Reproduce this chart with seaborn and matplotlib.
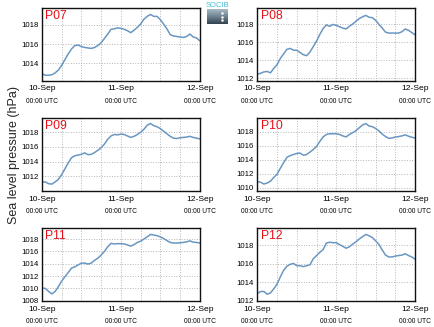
import numpy as np
import pandas as pd
import matplotlib
matplotlib.use("Agg")
import matplotlib.pyplot as plt
import matplotlib.dates as mdates
from matplotlib.ticker import MultipleLocator
import seaborn as sns

# Hourly sea level pressure (hPa), 10-Sep 00:00 to 12-Sep 00:00 UTC
times = pd.date_range("2013-09-10 00:00", "2013-09-12 00:00", freq="h")

p07 = [1012.9, 1012.75, 1012.75, 1012.8, 1013.0, 1013.3, 1013.8, 1014.4, 1015.0, 1015.5,
       1015.85, 1015.9, 1015.75, 1015.65, 1015.6, 1015.55, 1015.65, 1015.85, 1016.15, 1016.6,
       1017.05, 1017.55, 1017.6, 1017.7, 1017.65, 1017.55, 1017.4, 1017.2, 1017.45, 1017.75,
       1018.1, 1018.6, 1018.9, 1019.1, 1018.9, 1018.9, 1018.55, 1018.1, 1017.6, 1017.0,
       1016.85, 1016.8, 1016.75, 1016.7, 1016.8, 1017.05, 1016.75, 1016.65, 1016.35]
p08 = [1012.45, 1012.55, 1012.7, 1012.75, 1012.6, 1013.1, 1013.5, 1014.2, 1014.7, 1015.2,
       1015.3, 1015.1, 1015.1, 1014.85, 1014.6, 1014.5, 1014.9, 1015.5, 1016.1, 1016.85,
       1017.5, 1017.9, 1017.75, 1017.95, 1017.85, 1017.7, 1017.55, 1017.45, 1017.75, 1018.0,
       1018.3, 1018.6, 1018.8, 1018.95, 1018.75, 1018.7, 1018.4, 1017.95, 1017.55, 1017.1,
       1017.0, 1017.0, 1017.0, 1017.0, 1017.15, 1017.45, 1017.3, 1017.05, 1016.8]
p09 = [1011.2, 1011.25, 1011.0, 1010.95, 1011.25, 1011.6, 1012.25, 1013.05, 1013.85, 1014.55,
       1014.8, 1014.9, 1015.0, 1015.2, 1014.95, 1015.0, 1015.25, 1015.55, 1015.9, 1016.4,
       1017.05, 1017.5, 1017.7, 1017.65, 1017.75, 1017.7, 1017.5, 1017.3, 1017.45, 1017.7,
       1018.0, 1018.4, 1018.95, 1019.2, 1018.9, 1018.75, 1018.5, 1018.15, 1017.8, 1017.45,
       1017.2, 1017.15, 1017.25, 1017.3, 1017.35, 1017.45, 1017.3, 1017.2, 1017.1]
p10 = [1010.9, 1010.8, 1010.55, 1010.7, 1010.95, 1011.5, 1011.95, 1012.8, 1013.6, 1014.35,
       1014.6, 1014.75, 1014.9, 1014.95, 1014.65, 1014.75, 1015.1, 1015.45, 1015.9, 1016.6,
       1017.25, 1017.6, 1017.7, 1017.7, 1017.7, 1017.6, 1017.4, 1017.25, 1017.6, 1017.85,
       1018.15, 1018.55, 1018.95, 1019.15, 1018.8, 1018.7, 1018.45, 1018.1, 1017.65, 1017.3,
       1017.05, 1017.1, 1017.25, 1017.3, 1017.4, 1017.55, 1017.35, 1017.2, 1017.1]
p11 = [1010.05, 1010.0, 1009.5, 1009.1, 1009.5, 1010.3, 1011.2, 1011.9, 1012.6, 1013.3,
       1013.5, 1013.8, 1014.1, 1014.1, 1013.95, 1014.1, 1014.55, 1014.9, 1015.4, 1016.0,
       1016.75, 1017.3, 1017.2, 1017.25, 1017.25, 1017.2, 1017.05, 1016.85, 1017.1, 1017.45,
       1017.65, 1018.0, 1018.35, 1018.75, 1018.65, 1018.55, 1018.35, 1018.1, 1017.75, 1017.45,
       1017.35, 1017.35, 1017.4, 1017.45, 1017.55, 1017.7, 1017.5, 1017.45, 1017.35]
p12 = [1012.8, 1013.0, 1013.0, 1012.7, 1012.85, 1013.3, 1013.8, 1014.6, 1015.3, 1015.75,
       1015.95, 1016.05, 1015.8, 1015.8, 1015.7, 1015.8, 1015.9, 1016.55, 1016.9, 1017.25,
       1017.55, 1018.25, 1018.35, 1018.3, 1018.3, 1018.1, 1017.9, 1017.7, 1017.85, 1018.15,
       1018.4, 1018.7, 1018.95, 1019.2, 1019.05, 1018.85, 1018.5, 1018.1, 1017.5, 1016.95,
       1016.75, 1016.75, 1016.85, 1016.9, 1016.95, 1017.1, 1016.9, 1016.75, 1016.5]

stations = ["P07", "P08", "P09", "P10", "P11", "P12"]
series = [p07, p08, p09, p10, p11, p12]
ylims = [(1012.2, 1019.8), (1011.75, 1019.8), (1010.05, 1019.95),
         (1009.6, 1019.95), (1008.0, 1019.8), (1012.0, 1019.9)]
day_ticks = pd.to_datetime(["2013-09-10", "2013-09-11", "2013-09-12"])

sns.set_style("white")
plt.rcParams["font.family"] = ["Liberation Sans", "DejaVu Sans"]

fig = plt.figure(figsize=(4.34, 3.27), dpi=100)

col_x = [0.0968, 0.593]
row_y = [0.7538, 0.4168, 0.0804]
w, h = 0.3635, 0.2225
line_color = "#6a97c2"

for i, (name, vals, yl) in enumerate(zip(stations, series, ylims)):
    r, c = divmod(i, 2)
    ax = fig.add_axes([col_x[c], row_y[r], w, h])
    df = pd.DataFrame({"time": times, "pressure": vals})
    sns.lineplot(data=df, x="time", y="pressure", ax=ax, color=line_color, linewidth=1.1)
    ax.set_xlim(day_ticks[0], day_ticks[-1])
    ax.set_ylim(*yl)
    ax.set_xlabel("")
    ax.set_ylabel("")
    ax.yaxis.set_major_locator(MultipleLocator(2))
    ax.yaxis.set_major_formatter(matplotlib.ticker.FormatStrFormatter("%d"))
    ax.set_xticks(day_ticks)
    ax.xaxis.set_major_formatter(mdates.DateFormatter("%d-%b"))
    ax.xaxis.set_minor_locator(mdates.HourLocator(byhour=[6, 12, 18]))
    ax.tick_params(axis="y", length=0, pad=2.5, labelsize=5.6, colors="black")
    ax.tick_params(axis="x", which="major", length=0, pad=3.5, labelsize=6.1, colors="black")
    ax.tick_params(axis="x", which="minor", length=0)
    ax.grid(True, which="both", linestyle=":", color="#b5b5b5", linewidth=0.7)
    for s in ax.spines.values():
        s.set_color("#111111")
        s.set_linewidth(1.0)
    sec = ax.secondary_xaxis("bottom")
    sec.set_xticks(mdates.date2num(day_ticks), labels=["00:00 UTC"] * len(day_ticks))
    sec.tick_params(length=0, pad=12.5, labelsize=4.8, colors="black")
    sec.spines["bottom"].set_visible(False)
    ax.text(0.02, 0.97, name, transform=ax.transAxes, ha="left", va="top",
            color="#e8101a", fontsize=8.8)

fig.text(0.032, 0.525, "Sea level pressure (hPa)", rotation=90, ha="center", va="center",
         fontsize=9)

# SOCIB logo block
logo_ax = fig.add_axes([207 / 434, 1 - 24 / 327, 21 / 434, 15 / 327])
grad = np.linspace(0, 1, 32).reshape(-1, 1)
logo_cmap = matplotlib.colors.LinearSegmentedColormap.from_list(
    "logo", ["#a9b9c4", "#6d8291", "#34444f"])
logo_ax.imshow(grad, aspect="auto", cmap=logo_cmap, extent=[0, 1, 0, 1], origin="upper")
logo_ax.scatter([0.72, 0.72, 0.72], [0.75, 0.5, 0.25], s=0.6, color="white")
logo_ax.set_xlim(0, 1)
logo_ax.set_ylim(0, 1)
logo_ax.set_axis_off()
fig.text(217.5 / 434, 1 - 5.5 / 327, "SOCIB", ha="center", va="center",
         color="#49bcd8", fontsize=5.5)

fig.savefig("out.png", dpi=100)
